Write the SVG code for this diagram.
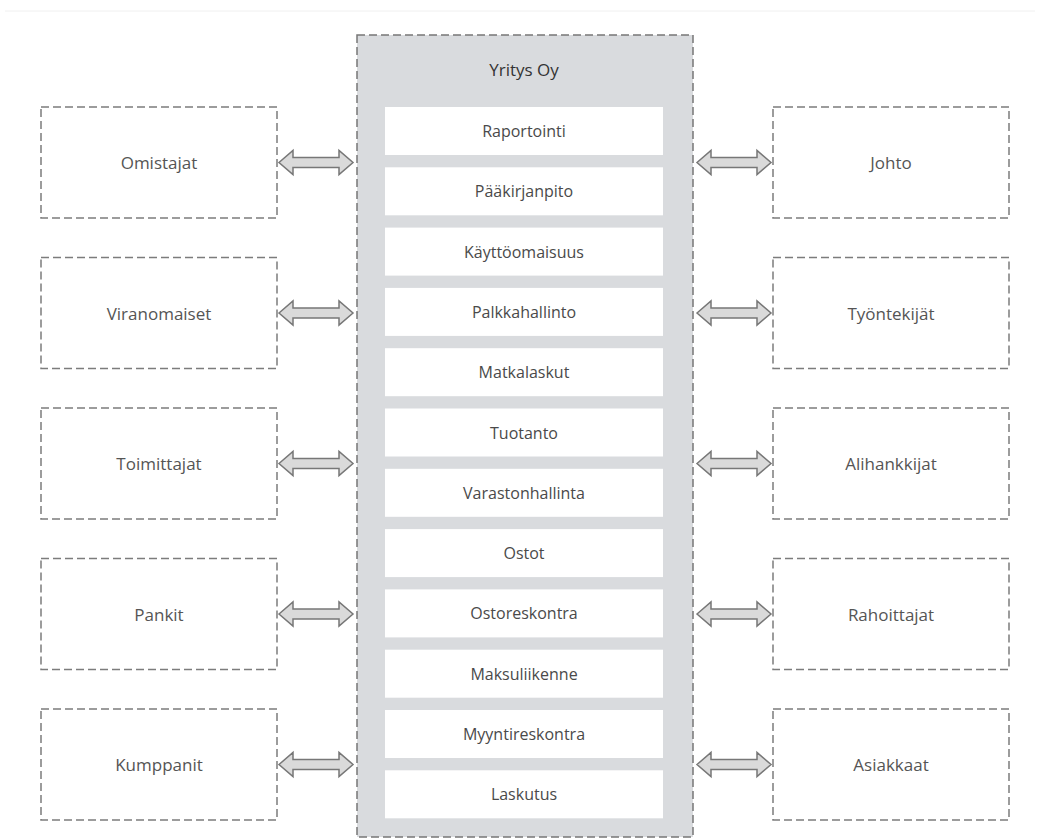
<svg xmlns="http://www.w3.org/2000/svg" width="1038" height="839" viewBox="0 0 1038 839">
<defs>
<style>
.dash{fill:#ffffff;stroke:#7c7c7c;stroke-width:1.5;stroke-dasharray:8 4}
.main{fill:#d9dbde;stroke:#777777;stroke-width:1.5;stroke-dasharray:8 4}
.item{fill:#ffffff}
.t{font-family:"Open Sans","Noto Sans","DejaVu Sans",sans-serif;font-size:17px;fill:#555555;text-anchor:middle;dominant-baseline:central}
.title{font-family:"Open Sans","Noto Sans","DejaVu Sans",sans-serif;font-size:17px;fill:#333333;text-anchor:middle;dominant-baseline:central}
.ti{font-family:"Open Sans","Noto Sans","DejaVu Sans",sans-serif;font-size:16px;fill:#4a4a4a;text-anchor:middle;dominant-baseline:central}
.arr{fill:#dadada;stroke:#777777;stroke-width:1.5;stroke-linejoin:miter}
</style>
<path id="dbl" d="M0,0 L14,-12 L14,-5 L60,-5 L60,-12 L74,0 L60,12 L60,5 L14,5 L14,12 Z"/>
</defs>
<rect width="1038" height="839" fill="#ffffff"/>
<line x1="5" y1="11" x2="1035" y2="11" stroke="#f0f0f0" stroke-width="1"/>
<g id="yritys">
<rect class="main" x="357" y="35" width="336" height="802"/>
<text class="title" x="524" y="69">Yritys Oy</text>
</g>
<g id="raportointi"><rect class="item" x="385" y="107" width="278" height="48"/><text class="ti" x="524" y="131">Raportointi</text></g>
<g id="paakirjanpito"><rect class="item" x="385" y="167.3" width="278" height="48"/><text class="ti" x="524" y="191.3">Pääkirjanpito</text></g>
<g id="kayttoomaisuus"><rect class="item" x="385" y="227.6" width="278" height="48"/><text class="ti" x="524" y="251.6">Käyttöomaisuus</text></g>
<g id="palkkahallinto"><rect class="item" x="385" y="287.9" width="278" height="48"/><text class="ti" x="524" y="311.9">Palkkahallinto</text></g>
<g id="matkalaskut"><rect class="item" x="385" y="348.2" width="278" height="48"/><text class="ti" x="524" y="372.2">Matkalaskut</text></g>
<g id="tuotanto"><rect class="item" x="385" y="408.5" width="278" height="48"/><text class="ti" x="524" y="432.5">Tuotanto</text></g>
<g id="varastonhallinta"><rect class="item" x="385" y="468.8" width="278" height="48"/><text class="ti" x="524" y="492.8">Varastonhallinta</text></g>
<g id="ostot"><rect class="item" x="385" y="529.1" width="278" height="48"/><text class="ti" x="524" y="553.1">Ostot</text></g>
<g id="ostoreskontra"><rect class="item" x="385" y="589.4" width="278" height="48"/><text class="ti" x="524" y="613.4">Ostoreskontra</text></g>
<g id="maksuliikenne"><rect class="item" x="385" y="649.7" width="278" height="48"/><text class="ti" x="524" y="673.7">Maksuliikenne</text></g>
<g id="myyntireskontra"><rect class="item" x="385" y="710" width="278" height="48"/><text class="ti" x="524" y="734">Myyntireskontra</text></g>
<g id="laskutus"><rect class="item" x="385" y="770.3" width="278" height="48"/><text class="ti" x="524" y="794.3">Laskutus</text></g>

<g id="omistajat"><rect class="dash" x="41" y="107" width="236" height="111"/><text class="t" x="159" y="162.5">Omistajat</text></g>
<g id="viranomaiset"><rect class="dash" x="41" y="257.5" width="236" height="111"/><text class="t" x="159" y="313">Viranomaiset</text></g>
<g id="toimittajat"><rect class="dash" x="41" y="408" width="236" height="111"/><text class="t" x="159" y="463.5">Toimittajat</text></g>
<g id="pankit"><rect class="dash" x="41" y="558.5" width="236" height="111"/><text class="t" x="159" y="614">Pankit</text></g>
<g id="kumppanit"><rect class="dash" x="41" y="709" width="236" height="111"/><text class="t" x="159" y="764.5">Kumppanit</text></g>

<g id="johto"><rect class="dash" x="773" y="107" width="236" height="111"/><text class="t" x="891" y="162.5">Johto</text></g>
<g id="tyontekijat"><rect class="dash" x="773" y="257.5" width="236" height="111"/><text class="t" x="891" y="313">Työntekijät</text></g>
<g id="alihankkijat"><rect class="dash" x="773" y="408" width="236" height="111"/><text class="t" x="891" y="463.5">Alihankkijat</text></g>
<g id="rahoittajat"><rect class="dash" x="773" y="558.5" width="236" height="111"/><text class="t" x="891" y="614">Rahoittajat</text></g>
<g id="asiakkaat"><rect class="dash" x="773" y="709" width="236" height="111"/><text class="t" x="891" y="764.5">Asiakkaat</text></g>

<g id="connectors">
<use href="#dbl" class="arr" x="279" y="162.5"/>
<use href="#dbl" class="arr" x="279" y="313"/>
<use href="#dbl" class="arr" x="279" y="463.5"/>
<use href="#dbl" class="arr" x="279" y="614"/>
<use href="#dbl" class="arr" x="279" y="764.5"/>
<use href="#dbl" class="arr" x="697" y="162.5"/>
<use href="#dbl" class="arr" x="697" y="313"/>
<use href="#dbl" class="arr" x="697" y="463.5"/>
<use href="#dbl" class="arr" x="697" y="614"/>
<use href="#dbl" class="arr" x="697" y="764.5"/>
</g>
</svg>
